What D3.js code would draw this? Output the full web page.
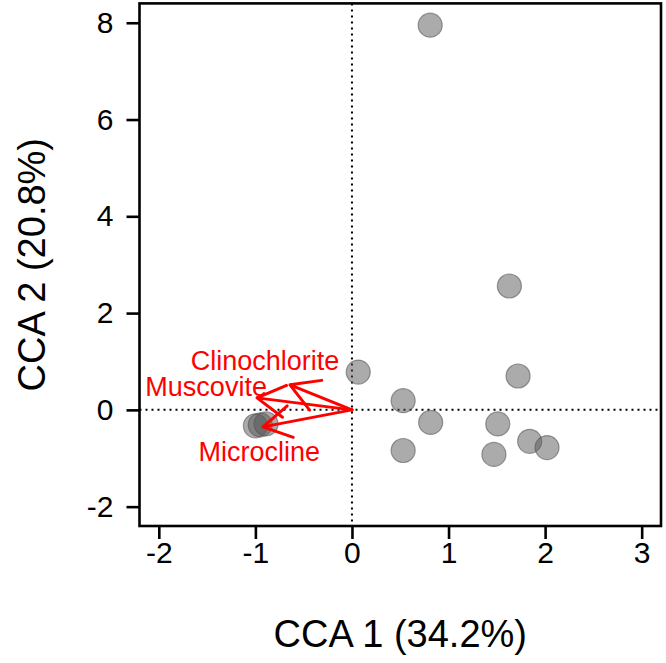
<!DOCTYPE html>
<html>
<head>
<meta charset="utf-8">
<script src="https://cdn.jsdelivr.net/npm/d3@7"></script>
<style>
  body { margin: 0; background: #fff; }
  text { font-family: "Liberation Sans", Arial, sans-serif; }
</style>
</head>
<body>
<div id="cca_plot"></div>
<script>
// site scores
var siteX = [0.81, 1.63, 1.72, 0.065, 0.53, 0.815, 0.53, 1.51, 1.47, 1.84, 2.02, -1.0, -0.95, -0.89];
var siteY = [7.95, 2.56, 0.70, 0.78, 0.19, -0.26, -0.84, -0.29, -0.92, -0.65, -0.78, -0.33, -0.31, -0.29];

// mineral vectors
var minerals = ["Clinochlorite", "Muscovite", "Microcline"];
var arrowX = [-0.642, -0.983, -0.921];
var arrowY = [0.517, 0.248, -0.351];
var labelX = [-0.9, -1.51, -0.96];
var labelY = [1.02, 0.48, -0.87];

var xTicks = [-2, -1, 0, 1, 2, 3];
var yTicks = [-2, 0, 2, 4, 6, 8];
var xTitle = "CCA 1 (34.2%)";
var yTitle = "CCA 2 (20.8%)";

var width = 666,
  height = 663;
var margin = { top: 3.4, right: 5, bottom: 137, left: 139.5 };
var plotW = width - margin.left - margin.right;
var plotH = height - margin.top - margin.bottom;

var svg = d3
  .select("#cca_plot")
  .append("svg")
  .attr("width", width)
  .attr("height", height)
  .append("g")
  .attr("transform", "translate(" + margin.left + "," + margin.top + ")");

var x = d3.scaleLinear().domain([-2.2, 3.2]).range([0, plotW]);
var y = d3.scaleLinear().domain([-2.4, 8.4]).range([plotH, 0]);
var fmt = function (d) {
  return String(d); // plain hyphen, no decimals
};

//Axes
var xAxis = svg
  .append("g")
  .attr("transform", "translate(0," + plotH + ")")
  .call(d3.axisBottom(x).tickValues(xTicks).tickFormat(fmt).tickSize(13).tickSizeOuter(0).tickPadding(3));
var yAxis = svg
  .append("g")
  .call(d3.axisLeft(y).tickValues(yTicks).tickFormat(fmt).tickSize(13).tickSizeOuter(0).tickPadding(13));

[xAxis, yAxis].forEach(function (a) {
  a.select(".domain").remove();
  a.selectAll("line").attr("stroke", "#000").attr("stroke-width", 2.6);
  a.selectAll("text")
    .attr("fill", "#000")
    .style("font-size", "30px")
    .style("font-family", "'Liberation Sans', Arial, sans-serif");
});

//Zero lines
svg
  .append("line")
  .attr("x1", 0)
  .attr("x2", plotW)
  .attr("y1", y(0))
  .attr("y2", y(0))
  .attr("stroke", "#000")
  .attr("stroke-width", 2)
  .attr("stroke-dasharray", "2,4");
svg
  .append("line")
  .attr("x1", x(0))
  .attr("x2", x(0))
  .attr("y1", 0)
  .attr("y2", plotH)
  .attr("stroke", "#000")
  .attr("stroke-width", 2)
  .attr("stroke-dasharray", "2,4");

//Sites
svg
  .selectAll(".site")
  .data(siteX)
  .enter()
  .append("circle")
  .attr("class", "site")
  .attr("cx", function (d) {
    return x(d);
  })
  .attr("cy", function (d, i) {
    return y(siteY[i]);
  })
  .attr("r", 12)
  .style("fill", "rgba(88,88,88,0.5)")
  .style("stroke", "rgba(80,80,80,0.55)")
  .style("stroke-width", 1.2);

//Arrows
var headLen = 32,
  headAng = Math.PI / 6;
minerals.forEach(function (m, i) {
  var x0 = x(0),
    y0 = y(0),
    x1 = x(arrowX[i]),
    y1 = y(arrowY[i]);
  var a = Math.atan2(y0 - y1, x0 - x1);
  var path =
    "M" + x0 + "," + y0 + "L" + x1 + "," + y1 +
    "M" + (x1 + headLen * Math.cos(a - headAng)) + "," + (y1 + headLen * Math.sin(a - headAng)) +
    "L" + x1 + "," + y1 +
    "L" + (x1 + headLen * Math.cos(a + headAng)) + "," + (y1 + headLen * Math.sin(a + headAng));
  svg
    .append("path")
    .attr("d", path)
    .attr("fill", "none")
    .attr("stroke", "#ff0000")
    .attr("stroke-width", 3)
    .attr("stroke-linejoin", "round")
    .attr("stroke-linecap", "round");
});

svg
  .selectAll(".mlabel")
  .data(minerals)
  .enter()
  .append("text")
  .attr("class", "mlabel")
  .attr("x", function (d, i) {
    return x(labelX[i]);
  })
  .attr("y", function (d, i) {
    return y(labelY[i]);
  })
  .attr("dy", "0.35em")
  .attr("text-anchor", "middle")
  .attr("fill", "#ff0000")
  .style("font-size", "27px")
  .text(function (d) {
    return d;
  });

//Box
svg
  .append("rect")
  .attr("width", plotW)
  .attr("height", plotH)
  .attr("fill", "none")
  .attr("stroke", "#000")
  .attr("stroke-width", 2.6);

//Titles
svg
  .append("text")
  .attr("x", plotW / 2)
  .attr("y", plotH + 107.5)
  .attr("dy", "0.35em")
  .attr("text-anchor", "middle")
  .style("font-size", "38px")
  .text(xTitle);
svg
  .append("text")
  .attr("transform", "translate(" + -107.5 + "," + plotH / 2 + ") rotate(-90)")
  .attr("dy", "0.35em")
  .attr("text-anchor", "middle")
  .style("font-size", "38px")
  .text(yTitle);
</script>
</body>
</html>
